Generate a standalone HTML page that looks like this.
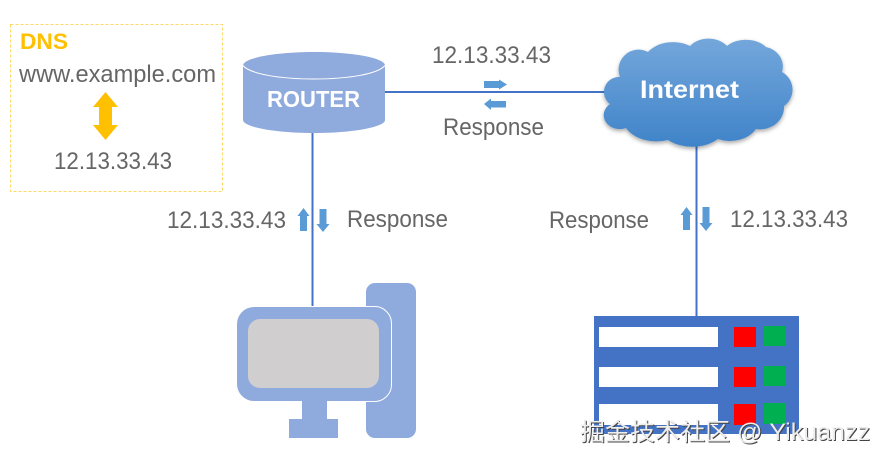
<!DOCTYPE html>
<html><head><meta charset="utf-8"><style>html,body{margin:0;padding:0;background:#fff}svg{display:block}text{font-family:"Liberation Sans","Noto Sans CJK SC",sans-serif}</style></head><body>
<svg width="885" height="462" viewBox="0 0 885 462" xmlns="http://www.w3.org/2000/svg">
<defs>
<linearGradient id="c" x1="0" y1="0" x2="0" y2="1"><stop offset="0" stop-color="#74a7db"/><stop offset="1" stop-color="#3f83c9"/></linearGradient>
<filter id="s" x="-10%" y="-10%" width="120%" height="125%"><feDropShadow dx="0" dy="2" stdDeviation="2" flood-color="#000" flood-opacity=".35"/></filter>
</defs>
<rect width="885" height="462" fill="#fff"/>
<rect x="10.5" y="24.5" width="212" height="167" fill="none" stroke="#ffd966" stroke-width="1" stroke-dasharray="3 2"/>
<g fill="#666">
<text x="19" y="82" font-size="24" textLength="197" lengthAdjust="spacingAndGlyphs">www.example.com</text>
<text x="54" y="169" font-size="24" textLength="118" lengthAdjust="spacingAndGlyphs">12.13.33.43</text>
<text x="432" y="63" font-size="24" textLength="119" lengthAdjust="spacingAndGlyphs">12.13.33.43</text>
<text x="443" y="135" font-size="24" textLength="101" lengthAdjust="spacingAndGlyphs">Response</text>
<text x="167" y="228" font-size="24" textLength="119" lengthAdjust="spacingAndGlyphs">12.13.33.43</text>
<text x="347" y="227" font-size="24" textLength="101" lengthAdjust="spacingAndGlyphs">Response</text>
<text x="549" y="228" font-size="24" textLength="100" lengthAdjust="spacingAndGlyphs">Response</text>
<text x="730" y="227" font-size="24" textLength="118" lengthAdjust="spacingAndGlyphs">12.13.33.43</text>
</g>
<text x="20" y="49" font-size="22" font-weight="bold" fill="#ffc000" textLength="48" lengthAdjust="spacingAndGlyphs">DNS</text>
<polygon points="105.500,92 118,107 112,107 112,125 118,125 105.500,140 93,125 99,125 99,107 93,107" fill="#ffc000"/>
<g stroke="#4472c4" stroke-width="2" fill="none">
<path d="M312.500 132V306M385 92H604M696.500 145V316"/>
</g>
<path d="M243 65.500C243 58 275 52 314 52S385 58 385 65.500V120C385 127 353 133 314 133S243 127 243 120Z" fill="#8faadc"/>
<path d="M243 65.500C250 74 280 79 314 79S378 74 385 65.500" fill="none" stroke="#fff" stroke-width="1"/>
<text x="267" y="107" font-size="23" font-weight="bold" fill="#fff" textLength="93" lengthAdjust="spacingAndGlyphs">ROUTER</text>
<path d="M620 77A20 20 0 0 1 648 52A30 22 0 0 1 690 46A22 16 0 0 1 727 46A24 16 0 0 1 766 47A22 20 0 0 1 782 72A20 20 0 0 1 784 106A24 22 0 0 1 756 129A30 24 0 0 1 718 139A36 26 0 0 1 668 140A34 24 0 0 1 626 128A16 14 0 0 1 610 104A15 15 0 0 1 620 77Z" fill="url(#c)" filter="url(#s)"/>
<text x="640" y="98" font-size="25" font-weight="bold" fill="#fff" textLength="99" lengthAdjust="spacingAndGlyphs">Internet</text>
<g fill="#5b9bd5">
<polygon points="484,81 499,81 499,79.500 507,84.500 499,89.500 499,88 484,88"/>
<polygon points="506,101 491,101 491,98.500 484,104 491,110 491,107.500 506,107.500"/>
<polygon points="303.500,208 309.500,216 307,216 307,231 300,231 300,216 297.500,216"/>
<polygon points="323,232 329.500,224 326.500,224 326.500,209 319.500,209 319.500,224 316.500,224"/>
<polygon points="686.500,207 692.500,215 690,215 690,230 683,230 683,215 680.500,215"/>
<polygon points="706,231 712.500,223 709.500,223 709.500,207 702.500,207 702.500,223 699.500,223"/>
</g>
<rect x="366" y="283" width="50" height="155" rx="9" fill="#8faadc"/>
<rect x="237" y="307" width="154" height="94" rx="17" fill="#8faadc"/>
<path d="M366 306.500H374A17 17 0 0 1 391.500 324V384A17 17 0 0 1 374 401.500H366" fill="none" stroke="#fff" stroke-width="1"/>
<rect x="248" y="319" width="131" height="69" rx="12" fill="#d0cece"/>
<rect x="302" y="401" width="25" height="19" fill="#8faadc"/>
<rect x="289" y="419" width="49" height="19" fill="#8faadc"/>
<rect x="594" y="316" width="205" height="118" fill="#4472c4"/>
<g fill="#fff"><rect x="599" y="327" width="119" height="20"/><rect x="599" y="367" width="119" height="20"/><rect x="599" y="404" width="119" height="21"/></g>
<g fill="#f00"><rect x="734" y="327" width="22" height="20"/><rect x="734" y="367" width="22" height="20"/><rect x="734" y="404" width="22" height="21"/></g>
<g fill="#00b050"><rect x="764" y="326" width="22" height="20"/><rect x="764" y="366" width="22" height="20"/><rect x="764" y="403" width="22" height="21"/></g>
<text x="581" y="441" font-size="24" fill="#444" textLength="290" lengthAdjust="spacingAndGlyphs">掘金技术社区 @ Yikuanzz</text>
<text x="580" y="440" font-size="24" fill="#eee" textLength="290" lengthAdjust="spacingAndGlyphs">掘金技术社区 @ Yikuanzz</text>
</svg>
</body></html>
